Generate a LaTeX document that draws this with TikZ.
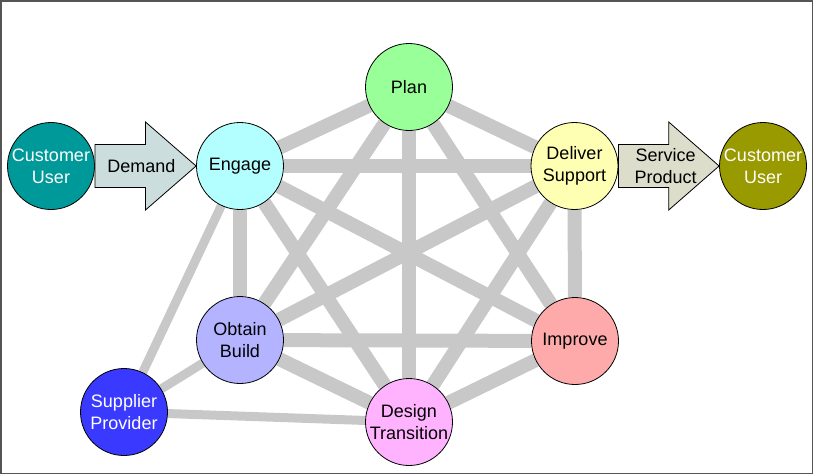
\documentclass[tikz,border=0pt]{standalone}
\usepackage{fontspec}
\setmainfont{Liberation Sans}
\usepackage{xcolor}
\usetikzlibrary{positioning,calc,backgrounds}

\definecolor{custteal}{RGB}{0,153,153}
\definecolor{custolive}{RGB}{153,153,0}
\definecolor{engagecol}{RGB}{179,255,255}
\definecolor{plancol}{RGB}{153,255,153}
\definecolor{delivercol}{RGB}{255,255,179}
\definecolor{obtaincol}{RGB}{179,179,255}
\definecolor{improvecol}{RGB}{255,170,170}
\definecolor{designcol}{RGB}{255,179,255}
\definecolor{suppliercol}{RGB}{57,57,255}
\definecolor{demandcol}{RGB}{204,221,221}
\definecolor{servicecol}{RGB}{221,221,204}
\definecolor{linkgray}{RGB}{200,200,200}
\definecolor{framegray}{RGB}{85,85,85}

\begin{document}
\begin{tikzpicture}[
    x=1pt, y=-1pt,
    % circles of the value chain
    stage/.style={circle, draw=black, line width=0.8pt, minimum size=87pt,
      inner sep=0pt, align=center, font=\fontsize{18}{22}\selectfont},
    % outside parties (white text)
    party/.style={stage, text=white},
    % grey links between the stages
    link/.style={draw=linkgray, line width=14pt},
    sublink/.style={draw=linkgray, line width=9pt},
    % block arrows in and out
    flow/.style={draw=black, line width=0.8pt, line join=miter},
    flowtext/.style={align=center, inner sep=0pt, font=\fontsize{18}{22}\selectfont},
  ]
  \useasboundingbox (0,0) rectangle (814,475);
  \draw[framegray, line width=1.5pt] (0.75,0.75) rectangle (812.5,473.5);

  \node[party, fill=custteal] (custin) at (51,166) {Customer\\User};
  \node[stage, fill=engagecol] (engage) at (240,166) {Engage};
  \node[stage, fill=plancol] (plan) at (409,87) {Plan};
  \node[stage, fill=delivercol] (deliver) at (574.5,166) {Deliver\\Support};
  \node[party, fill=custolive] (custout) at (763,166) {Customer\\User};
  \node[stage, fill=obtaincol] (obtain) at (240,340) {Obtain\\Build};
  \node[stage, fill=improvecol] (improve) at (575,341) {Improve};
  \node[stage, fill=designcol] (design) at (409,422) {Design\\Transition};
  \node[party, fill=suppliercol] (supplier) at (124,412) {Supplier\\Provider};

  \begin{scope}[on background layer]
    % every stage is linked to every other
    \foreach \a/\b in {engage/plan, engage/deliver, engage/improve, engage/design,
        engage/obtain, plan/deliver, plan/improve, plan/design, plan/obtain,
        deliver/improve, deliver/design, deliver/obtain, improve/design,
        improve/obtain, obtain/design}
      \draw[link] (\a) -- (\b);
    \foreach \b in {engage, obtain, design}
      \draw[sublink] (supplier) -- (\b);
  \end{scope}

  % block arrows
  \foreach \a/\b/\c in {custin/engage/demandcol, deliver/custout/servicecol}
    \draw[flow, fill=\c] ($(\a.east)+(0,-21.5)$) -- ($(\a.east)!.5!(\b.west)+(0,-21.5)$)
      -- ($(\a.east)!.5!(\b.west)+(0,-44)$) -- (\b.west)
      -- ($(\a.east)!.5!(\b.west)+(0,44)$) -- ($(\a.east)!.5!(\b.west)+(0,21.5)$)
      -- ($(\a.east)+(0,21.5)$) -- cycle;
  \node[flowtext] (demand) at ($(custin.east)!.46!(engage.west)$) {Demand};
  \node[flowtext] (service) at ($(deliver.east)!.47!(custout.west)$) {Service\\Product};
\end{tikzpicture}
\end{document}
